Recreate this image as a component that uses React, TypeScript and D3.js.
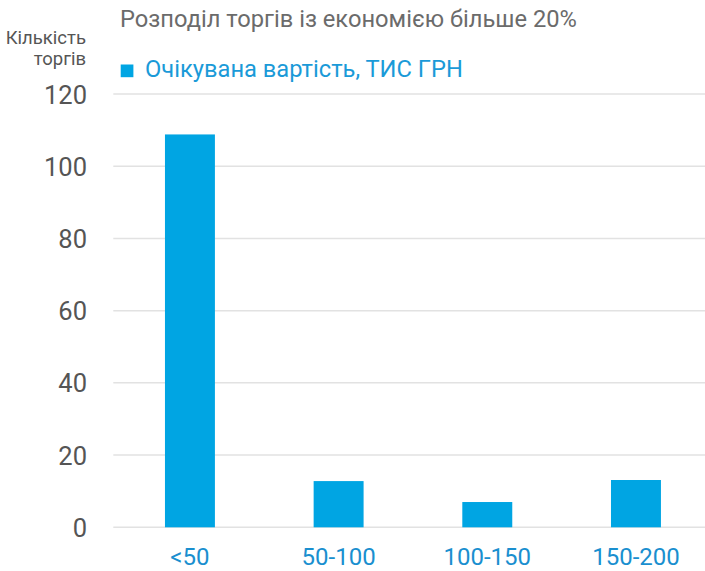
import React from "react";
import * as d3 from "d3";

const categories = ["<50", "50-100", "100-150", "150-200"];
const values = [108.8, 12.8, 7.0, 13.1];
const yTicks = [0, 20, 40, 60, 80, 100, 120];
const titleText = "Розподіл торгів із економією більше 20%";
const legendText = "Очікувана вартість, ТИС ГРН";
const axisTitle = ["Кількість", "торгів"];

const W = 705;
const H = 571;
const FONT = "Roboto, 'Noto Sans', sans-serif";

export default function App() {
  const x = d3
    .scaleBand<string>()
    .domain(categories)
    .range([115.6, 710.3])
    .paddingInner(0.664)
    .paddingOuter(0.332);
  const y = d3.scaleLinear().domain([0, 120]).range([527.3, 94]);

  return (
    <svg
      width={W}
      height={H}
      style={{ position: "absolute", left: 0, top: 0, background: "#fff" }}
      fontFamily={FONT}
    >
      <text x={120} y={26.7} fontSize={23.7} fill="#6b6b6b">
        {titleText}
      </text>
      <text x={86} y={44} fontSize={18.5} fill="#555" textAnchor="end">
        {axisTitle[0]}
      </text>
      <text x={86} y={65} fontSize={18.5} fill="#555" textAnchor="end">
        {axisTitle[1]}
      </text>
      <rect x={120.7} y={64.5} width={12.7} height={12.7} fill="#00a5e3" />
      <text x={145} y={77.3} fontSize={23.7} fill="#1a9ad8">
        {legendText}
      </text>
      {yTicks.map((t) => (
        <g key={t}>
          <line
            x1={113.3}
            x2={W}
            y1={y(t)}
            y2={y(t)}
            stroke="#e2e2e2"
            strokeWidth={1.5}
          />
          <text
            x={87}
            y={y(t) + 9.5}
            fontSize={25.5}
            fill="#555"
            textAnchor="end"
          >
            {t}
          </text>
        </g>
      ))}
      {categories.map((c, i) => (
        <g key={c}>
          <rect
            x={x(c)}
            y={y(values[i])}
            width={x.bandwidth()}
            height={y(0) - y(values[i])}
            fill="#00a5e3"
          />
          <text
            x={(x(c) as number) + x.bandwidth() / 2}
            y={565}
            fontSize={24}
            fill="#1a8fcf"
            textAnchor="middle"
          >
            {c}
          </text>
        </g>
      ))}
    </svg>
  );
}
